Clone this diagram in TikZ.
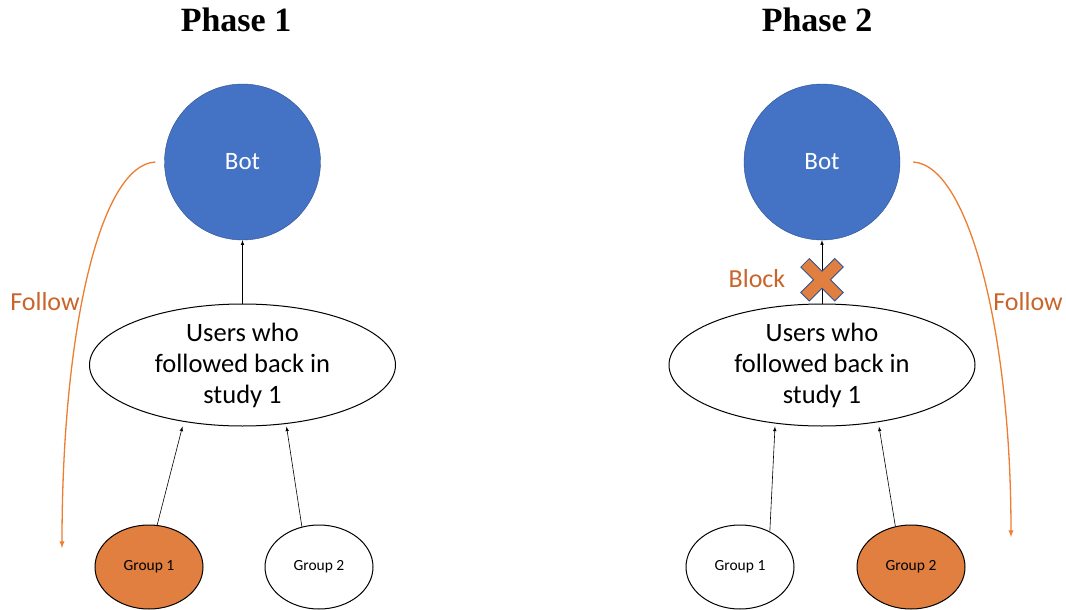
\documentclass[tikz,border=0pt]{standalone}
\usepackage{fontspec}
\setmainfont{Carlito}
\newfontfamily\titlefont{Liberation Serif}
\usetikzlibrary{shapes.geometric}

\definecolor{botblue}{HTML}{4472C4}
\definecolor{botedge}{HTML}{2F528F}
\definecolor{grouporange}{HTML}{E07F3F}
\definecolor{followorange}{HTML}{ED7D31}
\definecolor{labelorange}{HTML}{C9652B}

\begin{document}
\begin{tikzpicture}
  [x=1pt, y=-1pt,
   bot/.style={draw=botedge, fill=botblue, circle, inner sep=0pt,
     minimum size=156pt, text=white, font=\fontsize{25}{29}\selectfont},
   users/.style={draw, ellipse, inner sep=0pt, line width=1pt,
     minimum width=306pt, minimum height=122pt, align=center,
     font=\fontsize{26.5}{31}\selectfont},
   group/.style={draw, ellipse, inner sep=0pt, line width=1pt,
     minimum width=108pt, minimum height=84pt,
     font=\fontsize{15.5}{17}\selectfont},
   phase/.style={font=\titlefont\bfseries\fontsize{34}{40}\selectfont},
   orangelabel/.style={text=labelorange, font=\fontsize{26}{30}\selectfont},
   link/.style={-latex, line width=0.6pt},
   follow/.style={-latex, draw=followorange, line width=1.3pt}]
  \useasboundingbox (0,0) rectangle (1066,610);

  % phase 1
  \node[phase] (title1) at (236,20) {Phase 1};
  \node[bot] (bot1) at (242.5,162) {Bot};
  \node[users] (users1) at (242.5,365) {Users who\\followed back in\\study 1};
  \node[group, fill=grouporange] (g1a) at (149,567) {Group 1};
  \node[group] (g2a) at (319,567) {Group 2};
  \draw[link] (users1.north) -- (bot1.south);
  \draw[link] (g1a.79) -- ([xshift=-60pt]users1.south);
  \draw[link] (g2a.113) -- ([xshift=44pt]users1.south);
  \coordinate (follow1end) at (62,548);
  \draw[follow] ([xshift=-9pt]bot1.west) .. controls (100,165) and (62,330) .. (follow1end);
  \node[orangelabel] (follow1) at (45,302) {Follow};

  % phase 2
  \node[phase] (title2) at (817,20) {Phase 2};
  \node[bot] (bot2) at (822,162) {Bot};
  \node[users] (users2) at (822,365) {Users who\\followed back in\\study 1};
  \node[group] (g1b) at (740,567) {Group 1};
  \node[group, fill=grouporange] (g2b) at (911,567) {Group 2};
  \draw[link] (users2.north) -- (bot2.south);
  \draw[link] (g1b.50) -- ([xshift=-47pt]users2.south);
  \draw[link] (g2b.111) -- ([xshift=57pt]users2.south);
  \coordinate (follow2end) at (1011,537);
  \draw[follow] ([xshift=13pt]bot2.east) .. controls (968,165) and (1011,330) .. (follow2end);
  \node[orangelabel] (follow2) at (1028,302) {Follow};

  % blocked link
  \path (users2.north) -- (bot2.south) coordinate[pos=0.375] (blockmark);
  \begin{scope}[shift={(blockmark)}, rotate=45]
    \filldraw[fill=grouporange, draw=botedge, line width=0.8pt]
      (-6,-24) -- (6,-24) -- (6,-6) -- (24,-6) -- (24,6) -- (6,6) -- (6,24)
      -- (-6,24) -- (-6,6) -- (-24,6) -- (-24,-6) -- (-6,-6) -- cycle;
  \end{scope}
  \node[orangelabel] (block) at (757,279) {Block};
\end{tikzpicture}
\end{document}
